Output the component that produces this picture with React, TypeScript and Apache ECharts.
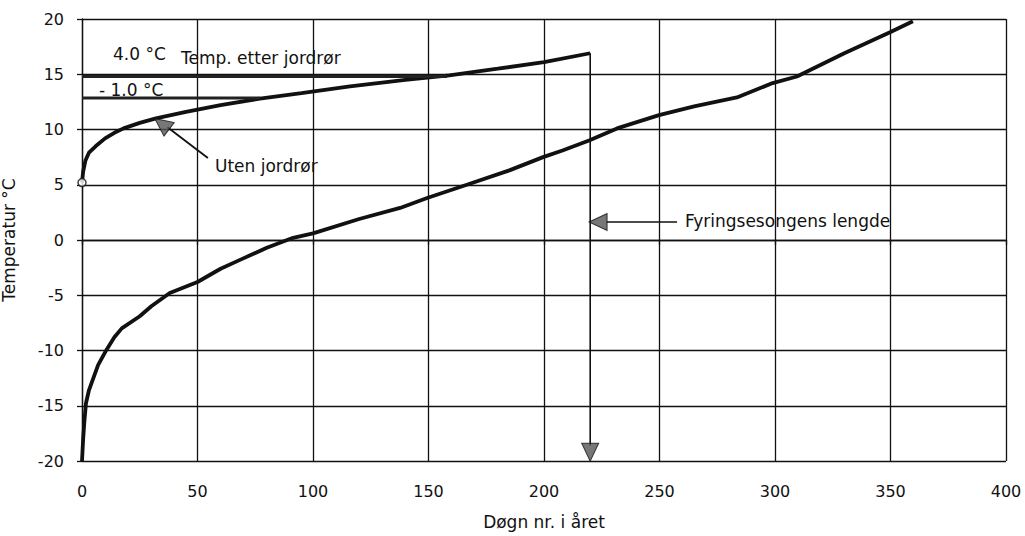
import React, { useEffect, useRef } from "react";
import * as echarts from "echarts";

// x-axis ticks and y-axis ticks
const xTicks = { min: 0, max: 400, interval: 50 };
const yTicks = { min: -20, max: 20, interval: 5 };

// Lower curve: outdoor temperature duration curve (day no., °C)
const outdoorDays = [0, 0.5, 1, 1.7, 3, 4.2, 7, 10.7, 14, 17.2, 25, 30, 38, 50, 60, 68.4, 80, 91.4, 100, 120, 137.7, 149.4, 166.6, 185, 199.6, 208, 219.5, 231.6, 249.8, 265, 283.5, 299, 309.5, 330, 349.8, 359.7];
const outdoorTemps = [-20, -18, -16.5, -14.8, -13.6, -12.9, -11.3, -9.9, -8.8, -8, -6.9, -6, -4.8, -3.8, -2.6, -1.8, -0.7, 0.2, 0.6, 1.9, 2.9, 3.8, 5, 6.3, 7.5, 8.1, 9, 10.1, 11.3, 12.1, 12.9, 14.2, 14.8, 16.9, 18.8, 19.8];

// Upper curve: temperature after earth tube
const tubeDays = [0, 0.5, 1.5, 3, 6, 10, 14, 18, 25, 32, 45, 60, 77, 95, 116, 140, 159, 180, 200, 220];
const tubeTemps = [5.2, 6.2, 7.2, 7.9, 8.5, 9.2, 9.7, 10.1, 10.6, 11, 11.6, 12.2, 12.8, 13.3, 13.9, 14.5, 14.9, 15.5, 16.1, 16.9];

// Reference level lines (day from, day to, °C)
const level40 = [[0, 14.8], [158, 14.8]];
const levelMinus10 = [[0, 12.85], [77, 12.85]];

// Heating season arrow (vertical) at day 220
const seasonArrowLine = [[220, 16.9], [220, -18.6]];
const seasonArrowHead = [[220, -19.2]];

// "Fyringsesongens lengde" pointer
const firingPointerLine = [[227, 1.63], [257.6, 1.63]];
const firingPointerHead = [[223.4, 1.63]];

// "Uten jordrør" pointer
const utenPointerLine = [[54.5, 7.42], [37, 10.2]];
const utenPointerHead = [[34.6, 10.5]];

const startPoint = [[0, 5.2]];

const FONT = "DejaVu Sans";

export default function App() {
  const ref = useRef<HTMLDivElement>(null);
  useEffect(() => {
    document.body.style.margin = "0";
    const chart = echarts.init(ref.current!, null, { renderer: "svg" });
    const zip = (xs: number[], ys: number[]) => xs.map((x, i) => [x, ys[i]]);
    const lineStyleSeries = (name: string, data: number[][], width: number, color = "#111") => ({
      name,
      type: "line",
      data,
      symbol: "none",
      lineStyle: { color, width },
      z: 3,
    });
    const arrowHead = (name: string, data: number[][], rotate: number) => ({
      name,
      type: "scatter",
      data,
      symbol: "triangle",
      symbolSize: [17, 18],
      symbolRotate: rotate,
      itemStyle: { color: "#555", borderColor: "#111", borderWidth: 1 },
      z: 5,
    });
    const label = (text: string, x: number, y: number) => ({
      type: "text",
      x,
      y,
      style: { text, fill: "#111", fontSize: 17, fontFamily: FONT, verticalAlign: "middle" },
    });
    chart.setOption({
      animation: false,
      backgroundColor: "#fff",
      grid: { left: 82, right: 19, top: 19, bottom: 75, outerBoundsMode: "none", containLabel: false },
      xAxis: {
        type: "value",
        min: xTicks.min,
        max: xTicks.max,
        interval: xTicks.interval,
        name: "Døgn nr. i året",
        nameLocation: "middle",
        nameGap: 52,
        nameTextStyle: { color: "#111", fontSize: 17, fontFamily: FONT },
        axisLine: { lineStyle: { color: "#111", width: 1.3 } },
        axisTick: { show: true, length: 5, lineStyle: { color: "#111", width: 1.3 } },
        axisLabel: { color: "#111", fontSize: 16, fontFamily: FONT, margin: 22 },
        splitLine: { show: true, lineStyle: { color: "#111", width: 1.3 } },
      },
      yAxis: {
        type: "value",
        min: yTicks.min,
        max: yTicks.max,
        interval: yTicks.interval,
        name: "Temperatur °C",
        nameLocation: "middle",
        nameGap: 65,
        nameTextStyle: { color: "#111", fontSize: 17, fontFamily: FONT },
        axisLine: { show: true, lineStyle: { color: "#111", width: 1.3 } },
        axisTick: { show: true, length: 5, lineStyle: { color: "#111", width: 1.3 } },
        axisLabel: { color: "#111", fontSize: 16, fontFamily: FONT, margin: 18 },
        splitLine: { show: true, lineStyle: { color: "#111", width: 1.3 } },
      },
      series: [
        lineStyleSeries("Ute", zip(outdoorDays, outdoorTemps), 3.8),
        lineStyleSeries("Temp. etter jordrør", zip(tubeDays, tubeTemps), 3.8),
        lineStyleSeries("4.0 °C", level40, 3, "#222"),
        lineStyleSeries("- 1.0 °C", levelMinus10, 3, "#222"),
        lineStyleSeries("season", seasonArrowLine, 1.6),
        lineStyleSeries("firing", firingPointerLine, 1.6),
        lineStyleSeries("uten", utenPointerLine, 1.8),
        arrowHead("seasonHead", seasonArrowHead, 180),
        arrowHead("firingHead", firingPointerHead, 90),
        arrowHead("utenHead", utenPointerHead, 53),
        {
          name: "start",
          type: "scatter",
          data: startPoint,
          symbol: "circle",
          symbolSize: 8,
          itemStyle: { color: "#fff", borderColor: "#111", borderWidth: 1.5 },
          z: 6,
        },
      ],
      graphic: [
        label("4.0 °C", 113, 54),
        label("Temp. etter jordrør", 181, 58),
        label("- 1.0 °C", 99, 90),
        label("Uten jordrør", 215, 166),
        label("Fyringsesongens lengde", 685, 221),
      ],
    });
    return () => chart.dispose();
  }, []);
  return <div ref={ref} style={{ width: 1025, height: 536 }} />;
}
